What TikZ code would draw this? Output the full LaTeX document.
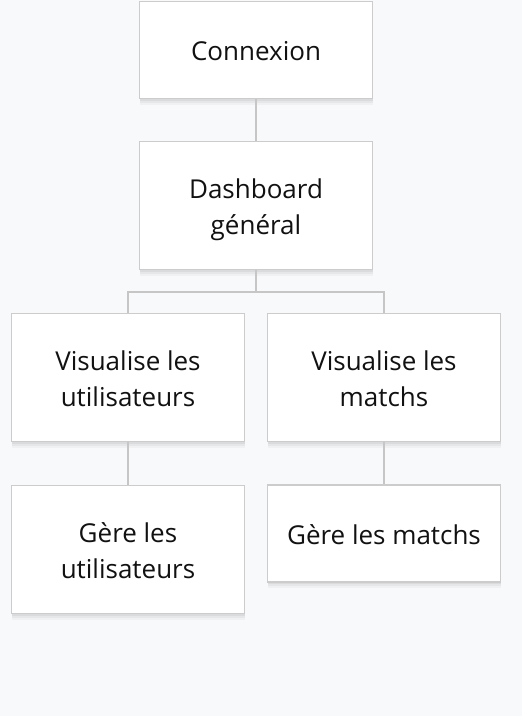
\documentclass[tikz,border=0pt]{standalone}
\usepackage{fontspec}
\setmainfont{Open Sans}
\usetikzlibrary{shadows}
\definecolor{pagebg}{RGB}{248,249,251}
\definecolor{boxline}{RGB}{204,204,204}
\definecolor{linkgray}{RGB}{198,198,198}
\definecolor{textdark}{RGB}{17,17,17}
\newcommand{\ligne}{\rule[-7.5pt]{0pt}{36pt}}

\begin{document}
\begin{tikzpicture}[x=1pt, y=-1pt,
    etape/.style={draw=boxline, line width=1.5pt, fill=white, text=textdark,
        minimum width=233pt, align=center, inner sep=0pt,
        font=\fontsize{26}{36}\selectfont,
        drop shadow={shadow xshift=0pt, shadow yshift=-6pt, opacity=0.03, fill=black},
        drop shadow={shadow xshift=0pt, shadow yshift=-4pt, opacity=0.04, fill=black},
        drop shadow={shadow xshift=0pt, shadow yshift=-2pt, opacity=0.05, fill=black}},
    lien/.style={draw=linkgray, line width=1.5pt}]
    % Fond
    \fill[pagebg] (0,0) rectangle (522,716);
    \useasboundingbox (0,0) rectangle (522,716);

    % Etapes
    \node[etape, minimum height=97pt] (connexion) at (256,50) {\ligne Connexion};
    \node[etape, minimum height=128pt] (dashboard) at (256,205.5) {\ligne Dashboard\\\ligne général};
    \node[etape, minimum height=128pt] (visuUsers) at (128,377.5) {\ligne Visualise les\\\ligne utilisateurs};
    \node[etape, minimum height=128pt] (visuMatchs) at (384,377.5) {\ligne Visualise les\\\ligne matchs};
    \node[etape, minimum height=128pt] (gereUsers) at (128,549.5) {\ligne Gère les\\\ligne utilisateurs};
    \node[etape, minimum height=97pt] (gereMatchs) at (384,533.5) {\ligne Gère les matchs};

    % Liens
    \coordinate (fourche) at (256,292);
    \draw[lien] (connexion) -- (dashboard);
    \draw[lien] (dashboard) -- (fourche) -| (visuUsers);
    \draw[lien] (fourche) -| (visuMatchs);
    \draw[lien] (visuUsers) -- (gereUsers);
    \draw[lien] (visuMatchs) -- (gereMatchs);
\end{tikzpicture}
\end{document}
